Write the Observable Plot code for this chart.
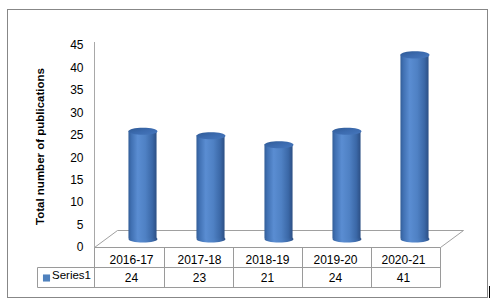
<!DOCTYPE html>
<html><head><meta charset="utf-8">
<script src="https://cdn.jsdelivr.net/npm/d3@7"></script>
<script src="https://cdn.jsdelivr.net/npm/@observablehq/plot@0.6"></script>
<style>html,body{margin:0;padding:0;background:#fff}</style>
</head><body><div id="chart"></div>
<script>
const categories = ["2016-17", "2017-18", "2018-19", "2019-20", "2020-21"];
const values = [24, 23, 21, 24, 41];
const yTicks = [0, 5, 10, 15, 20, 25, 30, 35, 40, 45];
const seriesName = "Series1";
const yTitle = "Total number of publications";

const data = categories.map((c, i) => ({cat: c, value: values[i]}));

const DX = 11.5, DY = -8.5;   // depth offset (cylinders stand mid-floor)
const RX = 14.5, RY = 3.6;    // cylinder cap ellipse radii
const K = 0.5523;
const ellipse = {
  draw(ctx) {
    ctx.moveTo(RX, 0);
    ctx.bezierCurveTo(RX, K * RY, K * RX, RY, 0, RY);
    ctx.bezierCurveTo(-K * RX, RY, -RX, K * RY, -RX, 0);
    ctx.bezierCurveTo(-RX, -K * RY, -K * RX, -RY, 0, -RY);
    ctx.bezierCurveTo(K * RX, -RY, RX, -K * RY, RX, 0);
    ctx.closePath();
  }
};

function defs() {
  const d = d3.create("svg:defs");
  const g = d.append("linearGradient").attr("id", "cylBody")
    .attr("x1", 0).attr("x2", 1).attr("y1", 0).attr("y2", 0);
  [[0, "#335e98"], [0.1, "#4070b2"], [0.33, "#5a8dd2"], [0.6, "#4f81c4"], [0.85, "#3b68a7"], [1, "#2c4f84"]]
    .forEach(([o, c]) => g.append("stop").attr("offset", o).attr("stop-color", c));
  const t = d.append("linearGradient").attr("id", "cylTop")
    .attr("x1", 0).attr("x2", 1).attr("y1", 0).attr("y2", 1);
  [[0, "#2f5a95"], [0.5, "#3c6baf"], [1, "#4677bd"]]
    .forEach(([o, c]) => t.append("stop").attr("offset", o).attr("stop-color", c));
  return d.node();
}

function decor(index, scales, vals, dim) {
  const {width, height, marginLeft, marginRight} = dim;
  const px = (v) => Math.round(v) + 0.5;
  const x0 = px(marginLeft - 1), x1 = px(width - marginRight);
  const y0 = px(scales.y(0));
  const bw = (width - marginRight - marginLeft) / categories.length;
  const g = d3.create("svg:g").attr("fill", "none");
  // outer chart border
  g.append("rect").attr("x", 7.5).attr("y", 9.5).attr("width", 480).attr("height", 288)
    .attr("stroke", "#878787");
  g.append("line").attr("x1", 489.5).attr("x2", 489.5).attr("y1", 286).attr("y2", 298)
    .attr("stroke", "#000");
  // value axis line
  g.append("line").attr("x1", x0).attr("x2", x0)
    .attr("y1", Math.round(scales.y(d3.max(yTicks))) - 3).attr("y2", y0)
    .attr("stroke", "#a8a8a8");
  // floor
  g.append("path")
    .attr("d", `M${x0},${y0}L${x0 + 23},${y0 - 17}L${x1 + 23},${y0 - 17}L${x1},${y0}`)
    .attr("stroke", "#a0a0a0");
  // data table
  const tc = "#9a9a9a", lx = 37.5;
  g.append("line").attr("x1", x0).attr("x2", x1).attr("y1", y0).attr("y2", y0).attr("stroke", tc);
  [20, 40].forEach(o => g.append("line").attr("x1", lx).attr("x2", x1)
    .attr("y1", y0 + o).attr("y2", y0 + o).attr("stroke", tc));
  for (let i = 0; i <= categories.length; i++) {
    const xx = i === 0 ? x0 : px(marginLeft + i * bw);
    g.append("line").attr("x1", xx).attr("x2", xx).attr("y1", y0).attr("y2", y0 + 40).attr("stroke", tc);
  }
  g.append("line").attr("x1", lx).attr("x2", lx).attr("y1", y0 + 20).attr("y2", y0 + 40).attr("stroke", tc);
  return g.node();
}

const chart = Plot.plot({
  width: 494,
  height: 307,
  marginLeft: 95,
  marginRight: 54.5,
  marginTop: 45,
  marginBottom: 60,
  style: {background: "#fff", color: "#000", fontFamily: "'Liberation Sans', Arial, sans-serif", fontSize: "12px"},
  x: {type: "band", domain: categories, padding: 0, axis: null},
  y: {domain: [0, 45]},
  marks: [
    defs,
    decor,
    Plot.dot(data, {x: "cat", y: () => 0, symbol: ellipse, r: 5, fill: "url(#cylBody)", stroke: "none", dx: DX, dy: DY}),
    Plot.barY(data, {x: "cat", y: "value", fill: "url(#cylBody)", insetLeft: 19.95, insetRight: 19.95, dx: DX, dy: DY}),
    Plot.dot(data, {x: "cat", y: "value", symbol: ellipse, r: 5, fill: "url(#cylTop)", stroke: "none", dx: DX, dy: DY}),
    Plot.axisY({ticks: yTicks, tickSize: 0, tickPadding: 12, fontSize: 12, label: null}),
    Plot.text([yTitle], {frameAnchor: "left", textAnchor: "middle", lineAnchor: "middle", rotate: -90, dx: -55, fontWeight: "bold", fontSize: 11.5, fill: "#000"}),
    Plot.text(data, {x: "cat", y: () => 0, text: "cat", dy: 13, fontSize: 12, fill: "#000"}),
    Plot.text(data, {x: "cat", y: () => 0, text: d => String(d.value), dy: 31, fontSize: 12, fill: "#000"}),
    Plot.dot([seriesName], {frameAnchor: "bottom-left", symbol: "square", r: 4, fill: "#4f81bd", stroke: "none", dx: -49, dy: 30.5}),
    Plot.text([seriesName], {frameAnchor: "bottom-left", text: d => d, textAnchor: "start", dx: -43.5, dy: 31, fontSize: 11.5, fill: "#000"})
  ]
});
document.getElementById("chart").appendChild(chart);
</script>
</body></html>
